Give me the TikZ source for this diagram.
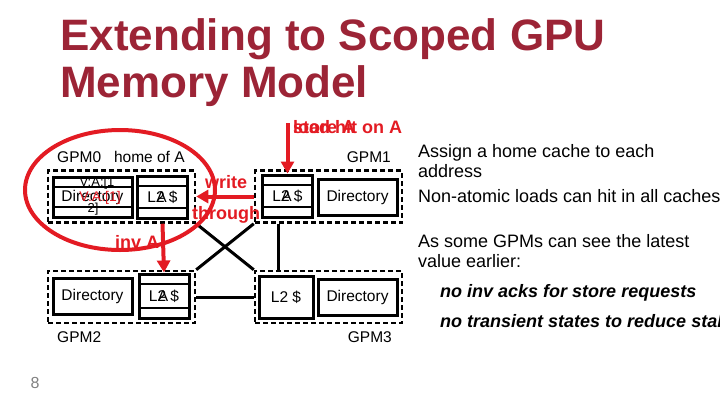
\documentclass[tikz,border=0pt]{standalone}
\usepackage{fontspec}
\setmainfont{Liberation Sans}
\usetikzlibrary{arrows.meta}
\definecolor{titlered}{HTML}{9C2436}
\definecolor{animred}{HTML}{E31B23}
\newcommand{\dgmfont}{\fontsize{15.5}{18}\selectfont}
\newcommand{\notefont}{\fontsize{18}{21}\selectfont}

\begin{document}
\begin{tikzpicture}[x=1pt, y=-1pt,
    gpm/.style={draw, line width=2.5pt, dash pattern=on 5pt off 3pt,
        minimum width=147pt, minimum height=52pt, inner sep=0pt},
    dirbox/.style={draw, line width=3pt, minimum width=79pt,
        minimum height=36pt, inner sep=0pt, font=\dgmfont},
    cachebox/.style={draw, line width=3pt, minimum width=50pt,
        minimum height=42pt, inner sep=0pt, font=\dgmfont},
    stripes/.style={path picture={
        \draw[line width=2.5pt]
            ([yshift=-10pt]path picture bounding box.north west) --
            ([yshift=-10pt]path picture bounding box.north east)
            ([yshift=10pt]path picture bounding box.south west) --
            ([yshift=10pt]path picture bounding box.south east);}},
    lbl/.style={font=\dgmfont, inner sep=0pt},
    redtxt/.style={font=\notefont\bfseries, text=animred, inner sep=0pt,
        anchor=base west},
    redarrow/.style={draw=animred, line width=4pt,
        -{Triangle[width=13pt,length=12pt]}},
    note/.style={font=\notefont, anchor=base west, inner sep=0pt}]
    \useasboundingbox (0,0) rectangle (720,405);

    % title
    \node[anchor=base west, inner sep=0pt, text=titlered,
        font=\fontsize{44}{50}\selectfont\bfseries] (title1) at (60,50)
        {Extending to Scoped GPU};
    \node[anchor=base west, inner sep=0pt, text=titlered,
        font=\fontsize{44}{50}\selectfont\bfseries] (title2) at (60,97)
        {Memory Model};

    % GPM modules
    \node[gpm] (gpm0) at (121.5,196.5) {};
    \node[gpm] (gpm1) at (328.5,196.5) {};
    \node[gpm] (gpm2) at (121.5,297) {};
    \node[gpm] (gpm3) at (328.5,297) {};

    % older directory entry, partly hidden
    \node[lbl, font=\fontsize{13}{15}\selectfont] (vold) at (97,183) {V:A:[1};
    \node[lbl, font=\fontsize{13}{15}\selectfont] (vtwo) at (93,209) {2]};

    \node[dirbox, stripes, minimum height=40pt] (dir0) at (92.5,197) {Directory};
    \node[cachebox, stripes] (l2c0) at (162.5,197) {L2 \$};
    \node[cachebox, stripes] (l2c1) at (287.5,196) {L2 \$};
    \node[dirbox] (dir1) at (357.5,197.5) {Directory};
    \node[dirbox] (dir2) at (92.5,296) {Directory};
    \node[cachebox, stripes, minimum height=44pt] (l2c2) at (164,296) {L2 \$};
    \node[cachebox, minimum width=54pt] (l2c3) at (286,297) {L2 \$};
    \node[dirbox] (dir3) at (357.5,297.5) {Directory};

    % cached copies of A
    \node[lbl] (a0) at ([xshift=-1pt]l2c0.center) {A};
    \node[lbl] (a1) at ([xshift=-1pt]l2c1.center) {A};
    \node[lbl] (a2) at ([xshift=-1pt]l2c2.center) {A};
    \node[lbl, font=\fontsize{14}{16}\selectfont, text=animred] (vnew)
        at (100,198) {V:A:[1]};

    \node[lbl, anchor=west] (lbl0) at (57,157) {GPM0 \ \ home of A};
    \node[lbl, anchor=east] (lbl1) at (391,157) {GPM1};
    \node[lbl, anchor=west] (lbl2) at (57,337) {GPM2};
    \node[lbl, anchor=east] (lbl3) at (392,337) {GPM3};

    % interconnect
    \draw[line width=3pt] (gpm0.south east) -- (gpm3.north west);
    \draw[line width=3pt] (gpm1.south west) -- (gpm2.north east);
    \draw[line width=3pt] ([xshift=-50.5pt]gpm1.south) -- ([xshift=-50.5pt]gpm3.north);
    \draw[line width=3pt] (gpm2.east) -- (gpm3.west);

    % load / store on A
    \coordinate (ldsrc) at (287.5,123);
    \draw[redarrow] (ldsrc) -- (l2c1.north);
    \node[redtxt] (ldtxt) at (293,133) {load hit on A};
    \node[redtxt] (sttxt) at (293,133) {store A};

    % write through and invalidation
    \draw[redarrow] (gpm1.west) -- (gpm0.east);
    \node[redtxt] (wrtxt) at (205,188) {write};
    \node[redtxt] (thtxt) at (192,219) {through};
    \draw[redarrow] (gpm0.south -| l2c0) -- (l2c2.north);
    \node[redtxt] (invtxt) at (115,248) {inv A};
    \draw[animred, line width=4pt] (120,190) ellipse [x radius=95pt, y radius=60pt];

    % notes
    \node[note] (n1) at (418,157) {Assign a home cache to each};
    \node[note] (n2) at (418,177) {address};
    \node[note] (n3) at (418,202) {Non-atomic loads can hit in all caches};
    \node[note] (n4) at (418,247) {As some GPMs can see the latest};
    \node[note] (n5) at (418,267) {value earlier:};
    \node[note, font=\notefont\bfseries\itshape] (n6) at (440,297)
        {no inv acks for store requests};
    \node[note, font=\notefont\bfseries\itshape] (n7) at (440,327)
        {no transient states to reduce stalls};

    \node[lbl, font=\fontsize{16}{18}\selectfont, text=gray] (pgnum) at (35,383) {8};
\end{tikzpicture}
\end{document}
